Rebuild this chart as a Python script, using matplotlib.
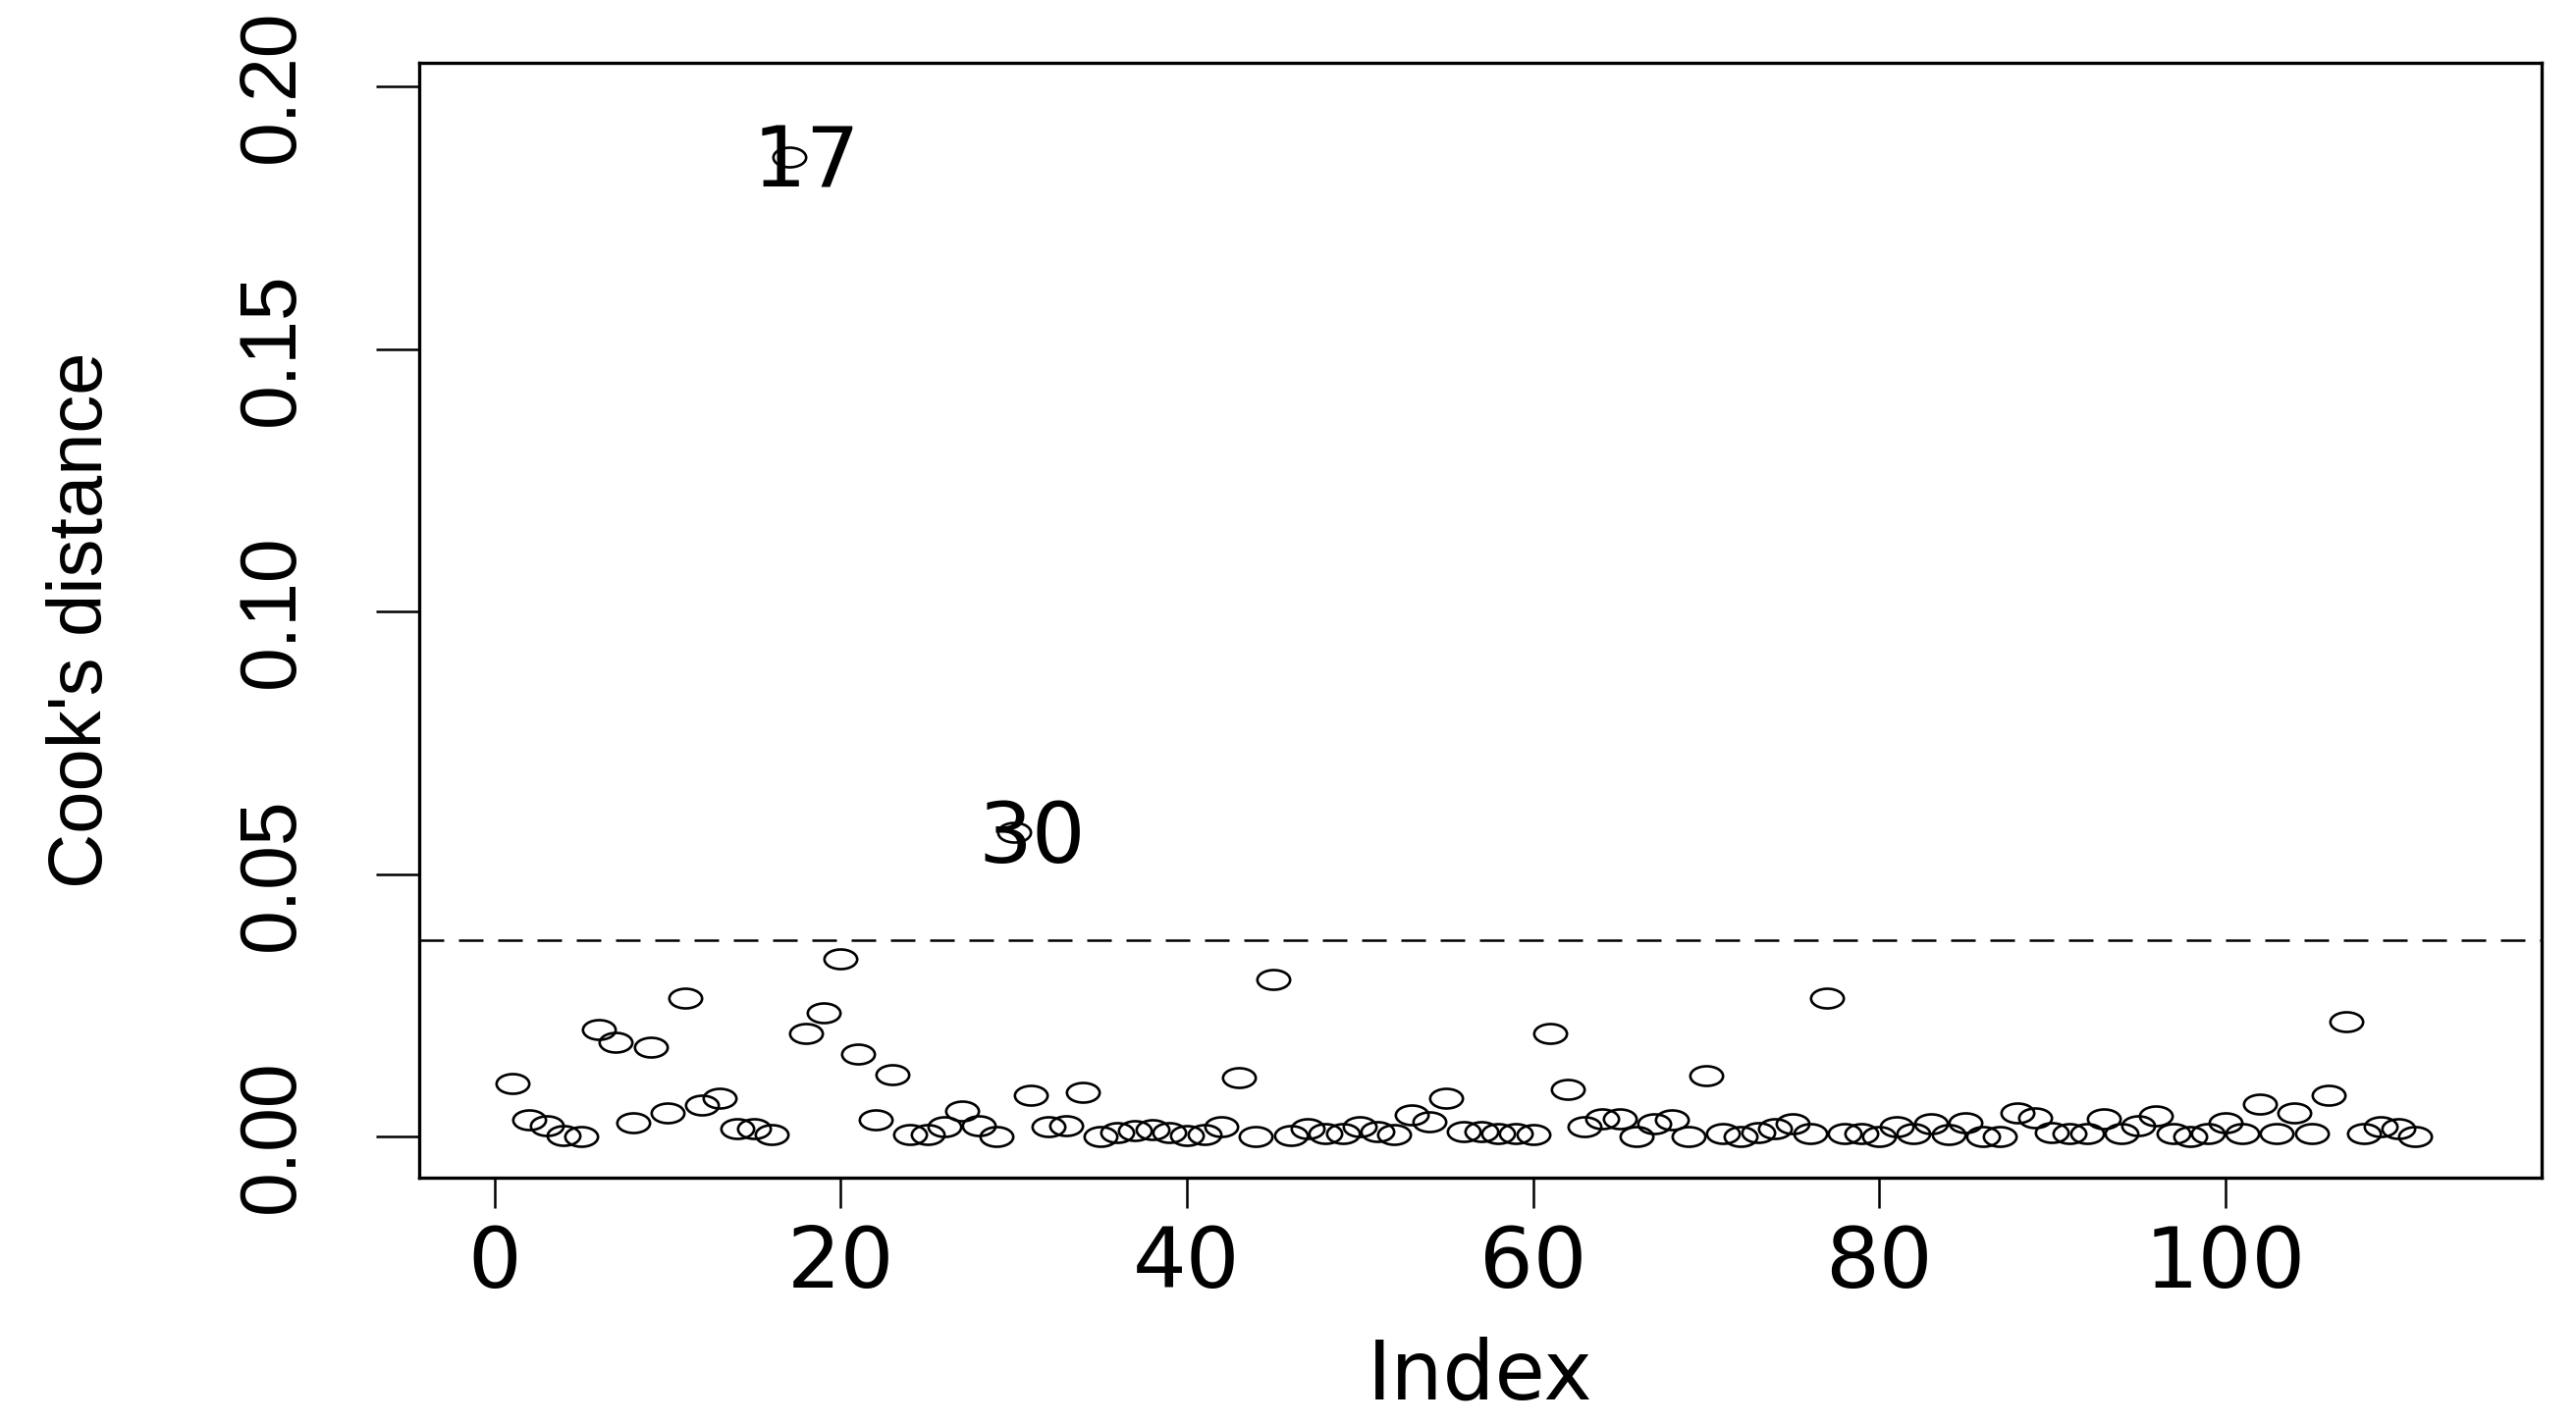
import matplotlib
matplotlib.use('Agg')
import matplotlib.pyplot as plt
import numpy as np
from matplotlib import font_manager
from matplotlib.path import Path
from matplotlib.markers import MarkerStyle
from matplotlib.transforms import Affine2D

cooks_d = [
    0.0101, 0.0032, 0.0021, 0.0002, 0.0000, 0.0203, 0.0180, 0.0027, 0.0170, 0.0045,
    0.0264, 0.0060, 0.0072, 0.0015, 0.0015, 0.0004, 0.1865, 0.0197, 0.0236, 0.0339,
    0.0157, 0.0032, 0.0118, 0.0004, 0.0004, 0.0018, 0.0049, 0.0021, 0.0000, 0.0579,
    0.0079, 0.0018, 0.0021, 0.0085, 0.0000, 0.0007, 0.0012, 0.0013, 0.0007, 0.0002,
    0.0004, 0.0019, 0.0112, 0.0000, 0.0299, 0.0001, 0.0014, 0.0005, 0.0005, 0.0019,
    0.0009, 0.0003, 0.0041, 0.0028, 0.0073, 0.0010, 0.0010, 0.0006, 0.0006, 0.0004,
    0.0197, 0.0090, 0.0018, 0.0033, 0.0033, 0.0000, 0.0025, 0.0031, 0.0000, 0.0116,
    0.0005, 0.0000, 0.0007, 0.0015, 0.0024, 0.0005, 0.0264, 0.0005, 0.0005, 0.0000,
    0.0018, 0.0005, 0.0024, 0.0003, 0.0027, 0.0000, 0.0000, 0.0045, 0.0035, 0.0007,
    0.0006, 0.0005, 0.0034, 0.0005, 0.0020, 0.0040, 0.0005, 0.0000, 0.0005, 0.0027,
    0.0005, 0.0062, 0.0005, 0.0045, 0.0005, 0.0079, 0.0219, 0.0005, 0.0018, 0.0015,
    0.0000,
]
index = np.arange(1, len(cooks_d) + 1)
cutoff = 0.0373
labelled = [17, 30]

x_ticks = [0, 20, 40, 60, 80, 100]
y_ticks = [0.00, 0.05, 0.10, 0.15, 0.20]

plt.rcParams['font.family'] = ['DejaVu Sans']
plt.rcParams['lines.scale_dashes'] = False

# the narrow font is used for the rotated texts on the left
names = {f.name for f in font_manager.fontManager.ttflist}
narrow = 'Liberation Sans Narrow' if 'Liberation Sans Narrow' in names else 'Liberation Sans'

fig = plt.figure(figsize=(26.24, 14.51), dpi=100)
ax = fig.add_axes([0.1627, 0.1730, 0.8240, 0.7829])

# R draws the circles stretched sideways, so an ellipse marker
ellipse = Path.unit_circle().transformed(Affine2D().scale(1, 0.6))
ax.plot(index, cooks_d, linestyle='none', marker=MarkerStyle(ellipse),
        markersize=24, markerfacecolor='none', markeredgecolor='black',
        markeredgewidth=1.9)

ax.axhline(cutoff, color='black', linewidth=1.8, linestyle=(0, (18, 10.8)))

for i in labelled:
    ax.annotate(str(i), (i, cooks_d[i - 1]), xytext=(13, -22),
                textcoords='offset points', ha='center', va='baseline',
                fontsize=62, color='black')

ax.set_xlim(-4.37, 118.3)
ax.set_ylim(-0.00785, 0.2045)

ax.set_xticks(x_ticks)
ax.set_xticklabels([str(t) for t in x_ticks])
ax.set_yticks(y_ticks)
ax.set_yticklabels(['%.2f' % t for t in y_ticks], fontfamily=narrow,
                   fontsize=58, rotation=90, va='center', ha='right')

ax.tick_params(axis='x', length=22, width=1.8, pad=12, labelsize=62)
ax.tick_params(axis='y', length=32, width=1.8, pad=48)

for sp in ax.spines.values():
    sp.set_linewidth(2.4)

ax.set_xlabel('Index', fontsize=60)
ax.xaxis.set_label_coords(0.5, -0.1425)
ax.set_ylabel("Cook's distance", fontsize=56, fontfamily=narrow)
ax.yaxis.set_label_coords(-0.1587, 0.5)
ax.yaxis.label.set_verticalalignment('center')

fig.savefig('out.png', dpi=100, facecolor='white')
